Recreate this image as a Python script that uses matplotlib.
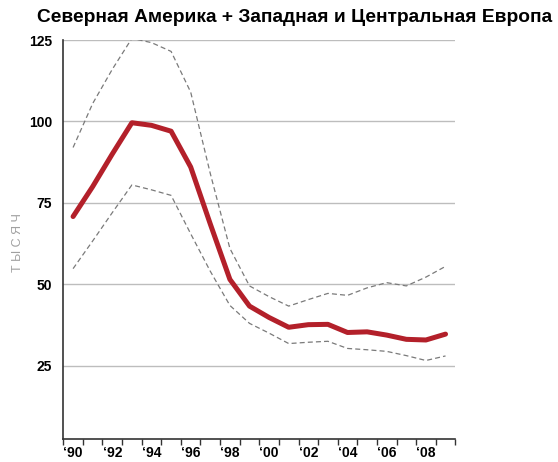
import numpy as np
import matplotlib
matplotlib.use("Agg")
import matplotlib.pyplot as plt

plt.rcParams['font.family'] = ['Liberation Sans', 'DejaVu Sans']

# Данные (тысяч)
years = np.arange(1990, 2010)
central = [70.8, 80.0, 90.0, 99.6, 98.8, 97.0, 86.0, 68.5, 51.5, 43.3,
           39.8, 36.8, 37.6, 37.7, 35.2, 35.4, 34.4, 33.1, 32.9, 34.7]
upper = [92.0, 105.5, 116.0, 125.5, 124.2, 121.5, 109.0, 84.0, 61.0, 49.5,
         46.2, 43.3, 45.3, 47.2, 46.6, 48.9, 50.5, 49.5, 52.2, 55.5]
lower = [54.8, 63.3, 72.0, 80.5, 79.0, 77.3, 65.5, 54.0, 43.5, 38.0,
         35.0, 31.8, 32.2, 32.5, 30.3, 29.9, 29.4, 28.1, 26.6, 28.0]
year_labels = ["\u2018" + str(y)[2:] for y in range(1990, 2010, 2)]

fig = plt.figure(figsize=(5.58, 4.62), dpi=100)
ax = fig.add_axes([0.1134, 0.0498, 0.7026, 0.8636])

ax.plot(years, upper, color='#7a7a7a', lw=0.9, ls=(0, (4, 2.5)))
ax.plot(years, lower, color='#7a7a7a', lw=0.9, ls=(0, (4, 2.5)))
ax.plot(years, central, color='#b3202a', lw=3.6, solid_joinstyle='round',
        solid_capstyle='round')

ax.set_xlim(1989.5, 2009.5)
ax.set_ylim(2.5, 125)

# тики на границах лет, подписи по центру года
ax.set_xticks(np.arange(1989.5, 2010, 1))
ax.set_xticklabels([])
ax.set_xticks(np.arange(1990, 2010, 2), minor=True)
ax.set_xticklabels(year_labels, minor=True, fontsize=10, fontweight='bold')
ax.tick_params(axis='x', which='major', length=4, width=1, color='#333333', direction='out')
ax.tick_params(axis='x', which='minor', length=0, pad=5)

ax.set_yticks([25, 50, 75, 100, 125])
ax.set_yticklabels(['25', '50', '75', '100', '125'], fontsize=10, fontweight='bold')
ax.tick_params(axis='y', length=0, pad=8)

ax.grid(axis='y', color='#bdbdbd', lw=1)
ax.set_axisbelow(True)

for s in ['top', 'right']:
    ax.spines[s].set_visible(False)
for s in ['left', 'bottom']:
    ax.spines[s].set_color('#333333')
    ax.spines[s].set_linewidth(1.2)

fig.text(0.527, 0.962, "Северная Америка + Западная и Центральная Европа",
         ha='center', va='center', fontsize=13.8, fontweight='bold')
fig.text(0.032, 0.475, "Т Ы С Я Ч", rotation=90, ha='center', va='center',
         fontsize=9, color='#a0a0a0')

fig.savefig("out.png", dpi=100)
